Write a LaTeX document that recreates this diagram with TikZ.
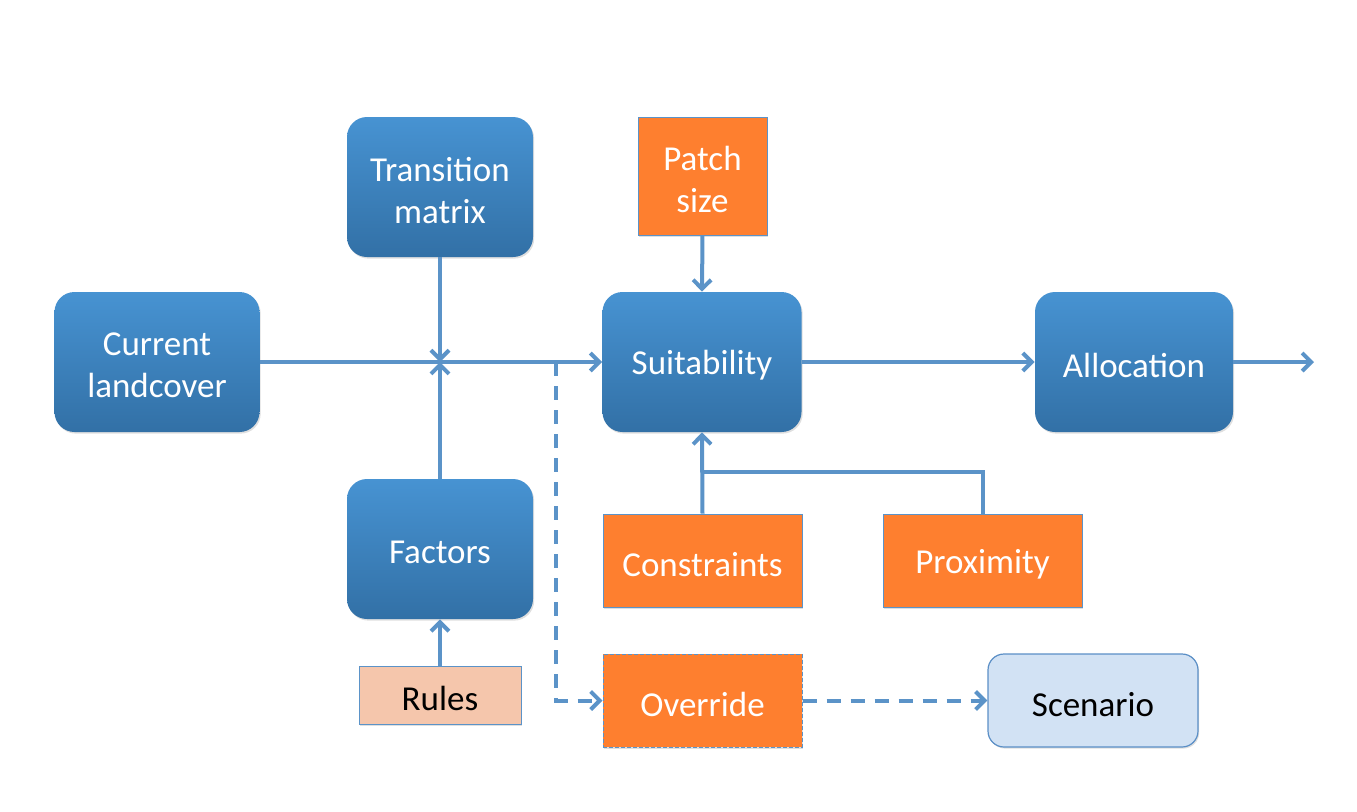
\documentclass[tikz,border=0pt]{standalone}
\usepackage{fontspec}
\setmainfont{Carlito}
\usetikzlibrary{arrows.meta,shadows}
\definecolor{lineblue}{HTML}{5B93C8}
\definecolor{boxtop}{HTML}{4793D2}
\definecolor{boxbot}{HTML}{3270A6}
\definecolor{orangefill}{HTML}{FE7F2F}
\definecolor{rulesfill}{HTML}{F5C6AC}
\definecolor{scenfill}{HTML}{D2E2F4}
\definecolor{scenline}{HTML}{5B8FC6}
\tikzset{
  boxshadow/.style={drop shadow={shadow xshift=0.6pt, shadow yshift=-0.8pt, opacity=0.25}},
  wtext/.style={text=white, align=center, yshift=-1.8pt, inner sep=0pt},
  ktext/.style={text=black, align=center, yshift=-1.8pt, inner sep=0pt},
  bluebox/.style={rounded corners=10pt, top color=boxtop, bottom color=boxbot, draw=none,
    minimum width=100pt, minimum height=70pt, inner sep=0pt, boxshadow},
  orangebox/.style={fill=orangefill, draw=lineblue, line width=0.5pt,
    inner sep=0pt, boxshadow},
  conn/.style={draw=lineblue, line width=2pt, -{Straight Barb[length=4.5pt,width=9pt,line width=2pt]}},
  plainconn/.style={draw=lineblue, line width=2pt},
  dashconn/.style={conn, dash pattern=on 7pt off 5pt},
}
\begin{document}
\begin{tikzpicture}[x=0.5pt,y=-0.5pt, font=\fontsize{17.5}{21}\selectfont]
\useasboundingbox (0,0) rectangle (1357,811);
% blue boxes
\node[bluebox, minimum width=102.5pt, label={[wtext]center:Current\\landcover}] (cur) at (157,362) {};
\node[bluebox, minimum width=93pt, label={[wtext]center:Transition\\matrix}] (trans) at (440,187) {};
\node[bluebox, minimum width=93pt, label={[wtext]center:Factors}] (fac) at (440,549) {};
\node[bluebox, minimum width=99.5pt, label={[wtext]center:Suitability}] (suit) at (702,362) {};
\node[bluebox, minimum width=99pt, label={[wtext]center:Allocation}] (alloc) at (1134,362) {};
% orange boxes
\node[orangebox, minimum width=64.5pt, minimum height=59pt, label={[wtext]center:Patch\\size}] (patch) at (702.5,176) {};
\node[orangebox, minimum width=99.5pt, minimum height=46.5pt, label={[wtext]center:Constraints}] (cons) at (702.5,560.5) {};
\node[orangebox, minimum width=99.5pt, minimum height=46.5pt, label={[wtext]center:Proximity}] (prox) at (982.5,560.5) {};
\node[orangebox, dash pattern=on 2pt off 1pt, minimum width=99.5pt, minimum height=46.5pt, label={[wtext]center:Override}] (over) at (702.5,700.5) {};
\node[fill=rulesfill, draw=lineblue, line width=0.5pt, minimum width=81pt, minimum height=29pt, inner sep=0pt,
  boxshadow, label={[ktext]center:Rules}] (rules) at (440,695) {};
\node[fill=scenfill, draw=scenline, line width=0.6pt, rounded corners=8pt, minimum width=105pt, minimum height=46.5pt, inner sep=0pt,
  boxshadow, label={[ktext]center:Scenario}] (scen) at (1093,700.5) {};
% junction points
\coordinate (j) at (440,362);
\coordinate (d) at (556,362);
\coordinate (dd) at (556,700.5);
\coordinate (pj) at (702.5,472);
\coordinate (out) at (1314,362);
% connectors
\draw[conn] (cur.east) -- (suit.west);
\draw[conn] (trans.south) -- (j);
\draw[conn] (fac.north) -- (j);
\draw[conn] (rules.north) -- (fac.south);
\draw[conn] (patch.south) -- (suit.north);
\draw[conn] (cons.north) -- (suit.south);
\draw[plainconn] (prox.north) |- (pj);
\draw[conn] (suit.east) -- (alloc.west);
\draw[conn] (alloc.east) -- (out);
\draw[dashconn] (d) -- (dd) -- (over.west);
\draw[dashconn] (over.east) -- (scen.west);
\end{tikzpicture}
\end{document}
